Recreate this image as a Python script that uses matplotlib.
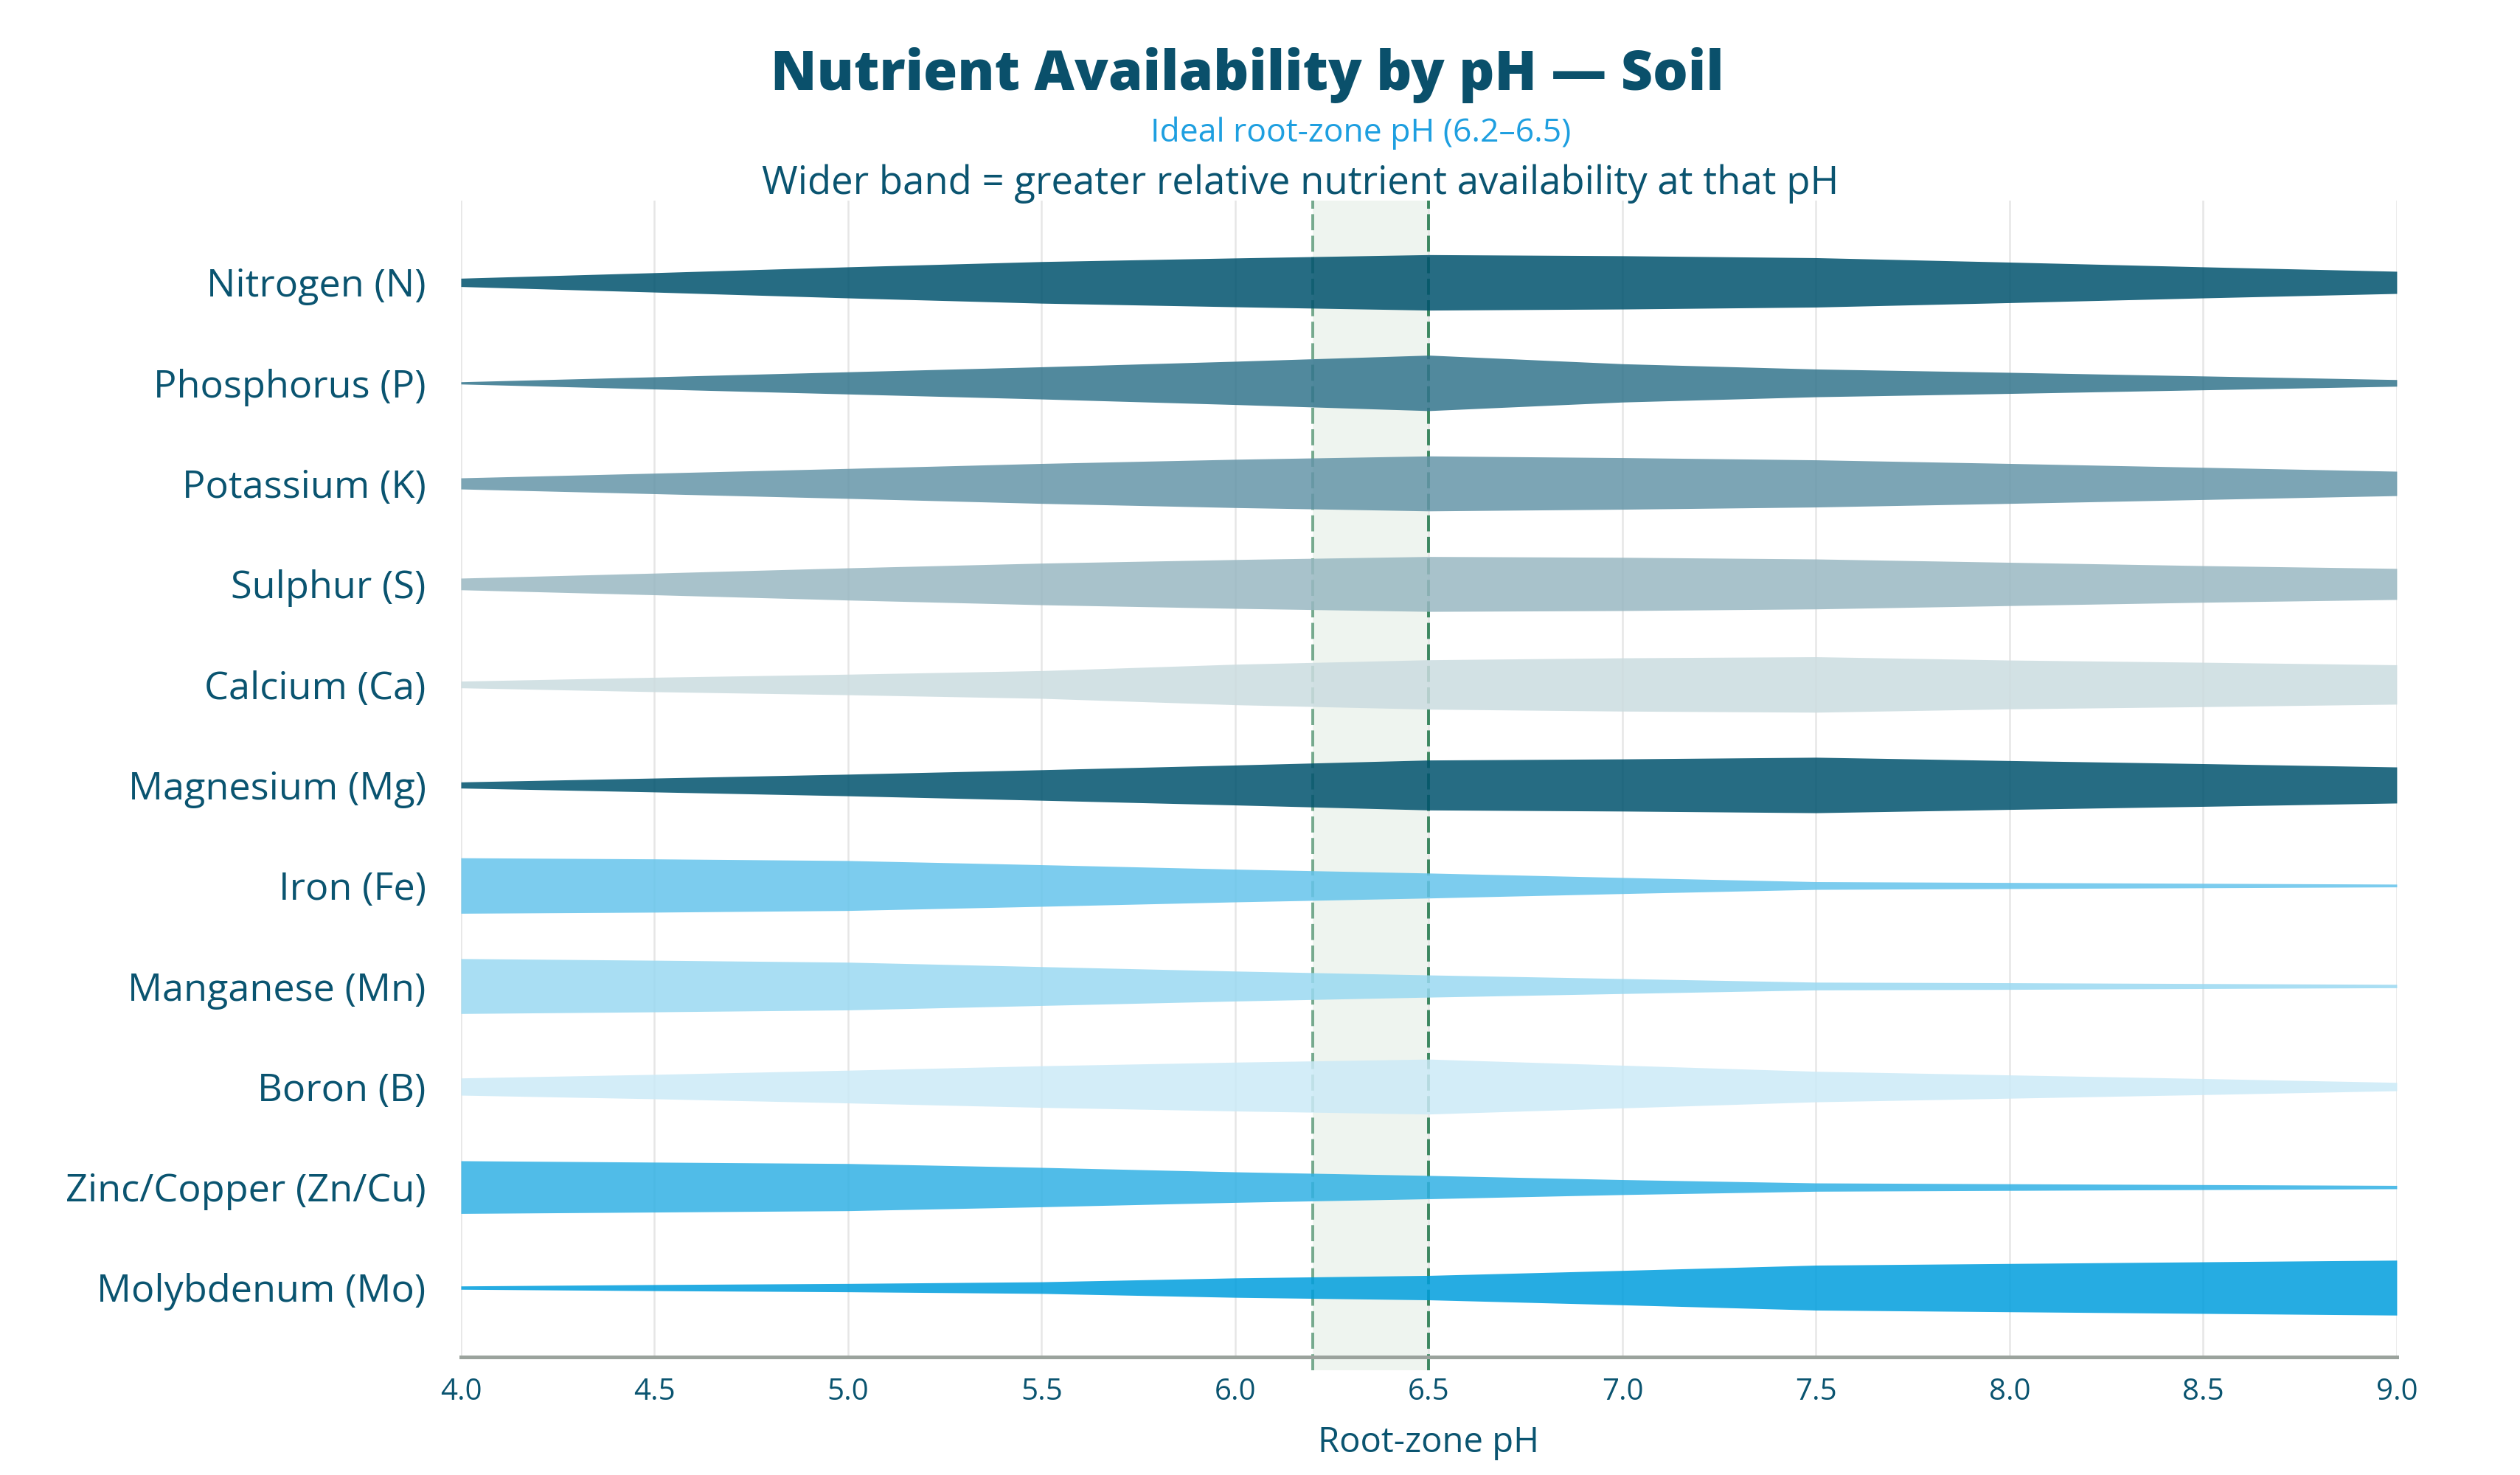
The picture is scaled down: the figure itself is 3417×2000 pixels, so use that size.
import matplotlib
matplotlib.use("Agg")
import matplotlib.pyplot as plt
import numpy as np

plt.rcParams['font.family'] = ['Open Sans', 'DejaVu Sans']

# data
ph = [4.0, 4.5, 5.0, 5.5, 6.0, 6.5, 7.0, 7.5, 8.0, 8.5, 9.0]
nutrients = ["Nitrogen (N)", "Phosphorus (P)", "Potassium (K)", "Sulphur (S)",
             "Calcium (Ca)", "Magnesium (Mg)", "Iron (Fe)", "Manganese (Mn)",
             "Boron (B)", "Zinc/Copper (Zn/Cu)", "Molybdenum (Mo)"]
nitrogen   = [0.15, 0.35, 0.56, 0.75, 0.88, 1.00, 0.96, 0.89, 0.73, 0.56, 0.40]
phosphorus = [0.04, 0.22, 0.40, 0.58, 0.78, 1.00, 0.69, 0.50, 0.38, 0.25, 0.12]
potassium  = [0.20, 0.37, 0.54, 0.72, 0.87, 0.99, 0.93, 0.85, 0.72, 0.58, 0.44]
sulphur    = [0.21, 0.39, 0.58, 0.75, 0.88, 0.99, 0.96, 0.90, 0.78, 0.66, 0.56]
calcium    = [0.12, 0.26, 0.37, 0.50, 0.73, 0.89, 0.96, 1.00, 0.88, 0.80, 0.71]
magnesium  = [0.11, 0.25, 0.39, 0.55, 0.72, 0.90, 0.94, 1.00, 0.88, 0.77, 0.65]
iron       = [1.00, 0.96, 0.90, 0.75, 0.59, 0.45, 0.29, 0.14, 0.11, 0.08, 0.05]
manganese  = [0.99, 0.93, 0.86, 0.70, 0.54, 0.40, 0.27, 0.14, 0.12, 0.09, 0.06]
boron      = [0.31, 0.44, 0.59, 0.75, 0.88, 0.99, 0.77, 0.55, 0.42, 0.29, 0.15]
zinc_cu    = [0.95, 0.90, 0.85, 0.71, 0.55, 0.42, 0.27, 0.15, 0.12, 0.09, 0.06]
molybdenum = [0.06, 0.11, 0.15, 0.21, 0.35, 0.44, 0.62, 0.81, 0.87, 0.93, 0.99]
values = [nitrogen, phosphorus, potassium, sulphur, calcium, magnesium,
          iron, manganese, boron, zinc_cu, molybdenum]
colors = ["#00526d", "#32748c", "#6595a8", "#99b8c2", "#cbdce0", "#00526d",
          "#65c4eb", "#9ad9f1", "#cceaf7", "#31b1e4", "#009edd"]
ideal_lo, ideal_hi = 6.2, 6.5
xticks = [4.0, 4.5, 5.0, 5.5, 6.0, 6.5, 7.0, 7.5, 8.0, 8.5, 9.0]

teal = "#0a5470"
half_scale = 0.276

fig = plt.figure(figsize=(17.085, 10), dpi=200)
ax = fig.add_axes([0.1829, 0.08025, 0.9511 - 0.1829, 0.864 - 0.08025])

# ideal zone
ax.axvspan(ideal_lo, ideal_hi, ymin=-0.0115, ymax=1, color="#eef4ef", zorder=0, clip_on=False, lw=0)
ax.axvline(ideal_lo, ymin=-0.0115, ymax=1, color="#4a8f6a", alpha=0.75, lw=1.4,
           dashes=(5.6, 1.9), zorder=1, clip_on=False)
ax.axvline(ideal_hi, ymin=-0.0115, ymax=1, color="#3b8760", lw=1.4,
           dashes=(5.6, 1.9), zorder=1, clip_on=False)

# bands
for i, (v, c) in enumerate(zip(values, colors)):
    h = np.array(v) * half_scale
    ax.fill_between(ph, i - h, i + h, color=c, alpha=0.85, lw=0, zorder=3)

ax.set_xlim(4.0, 9.0)
ax.set_ylim(10.686, -0.814)
ax.set_xticks(xticks)
ax.set_xticklabels([f"{t:.1f}" for t in xticks])
ax.set_yticks(range(len(nutrients)))
ax.set_yticklabels(nutrients)
ax.grid(axis="x", color="#e6e6e6", lw=0.9, zorder=0)
ax.set_axisbelow(True)
for s in ["top", "right", "left"]:
    ax.spines[s].set_visible(False)
ax.spines["bottom"].set_color("#9ba39d")
ax.spines["bottom"].set_linewidth(1.8)
ax.spines["bottom"].set_zorder(4)
ax.tick_params(axis="x", length=0, pad=10, labelsize=14.5, labelcolor=teal)
ax.tick_params(axis="y", length=0, pad=17, labelsize=18.8, labelcolor=teal)
ax.set_xlabel("Root-zone pH", fontsize=17, color=teal, labelpad=9)

fig.text(0.495, 0.939, "Nutrient Availability by pH \u2014 Soil", ha="center", va="baseline",
         fontsize=27, fontweight="heavy", color="#0a506b")
fig.text(0.540, 0.904, "Ideal root-zone pH (6.2\u20136.5)", ha="center", va="baseline",
         fontsize=16, color="#1e9fe0")
fig.text(0.516, 0.8685, "Wider band = greater relative nutrient availability at that pH",
         ha="center", va="baseline", fontsize=19, color=teal)

fig.savefig("out.png", dpi=200, facecolor="white")
